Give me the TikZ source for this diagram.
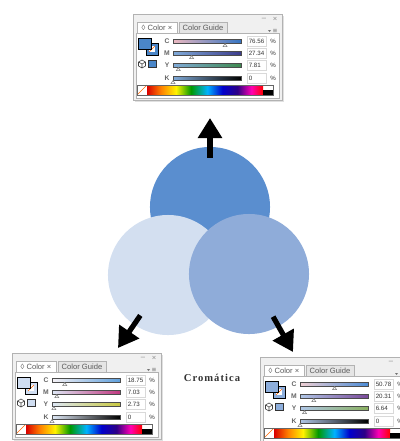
\documentclass[tikz,border=0pt]{standalone}
\usepackage{fontspec}
\usetikzlibrary{arrows.meta}
\newfontfamily\uifont{Liberation Sans}
\newfontfamily\capfont[LetterSpace=10]{Liberation Serif}
\definecolor{topblue}{HTML}{5A8ECF}
\definecolor{leftblue}{HTML}{D3DFF0}
\definecolor{rightblue}{HTML}{8FACD9}
% panel colours: fill, C slider ends, M/Y slider right ends
\definecolor{tpfill}{HTML}{4A86C8}
\definecolor{tpcl}{HTML}{EBB8C0}
\definecolor{tpcr}{HTML}{3574C2}
\definecolor{tpmr}{HTML}{3C3C8C}
\definecolor{tpyr}{HTML}{3E8A50}
\definecolor{blfill}{HTML}{D0DEF2}
\definecolor{blcl}{HTML}{F6F2F6}
\definecolor{blcr}{HTML}{60A0DC}
\definecolor{blmr}{HTML}{C03880}
\definecolor{blyr}{HTML}{C8C840}
\definecolor{brfill}{HTML}{8DAEDC}
\definecolor{brcl}{HTML}{F0D0D4}
\definecolor{brcr}{HTML}{4C8CD6}
\definecolor{brmr}{HTML}{7A4A9A}
\definecolor{bryr}{HTML}{8AB060}
\pgfdeclarehorizontalshading{spectrum}{100bp}{color(0bp)=(red); color(25bp)=(red!85!black);
  color(31bp)=(orange); color(37.5bp)=(yellow!90!orange); color(44bp)=(green!60!black);
  color(51bp)=(cyan!70!blue); color(57.5bp)=(blue!80!black); color(64bp)=(blue!50!violet!70!black);
  color(70bp)=(magenta!70!red); color(75bp)=(red); color(100bp)=(red)}
\begin{document}
\begin{tikzpicture}[x=0.025cm, y=-0.025cm]
  \tikzset{
    disc/.style={circle, minimum size=3cm, inner sep=0pt},
    pointer/.style={-{Triangle[length=0.5cm, width=0.58cm]}, line width=0.13cm, shorten <=1.225cm},
    tabtext/.style={font=\uifont\fontsize{5.4}{5.4}\selectfont, text=black!65, inner sep=0pt},
    chan/.style={font=\uifont\bfseries\fontsize{4.8}{4.8}\selectfont, text=black!60, inner sep=0pt},
    valtext/.style={font=\uifont\fontsize{4.4}{4.4}\selectfont, text=black!80, inner sep=0pt},
    pics/colpanel/.style args={#1/#2/#3/#4}{code={
      \fill[black!12] (2,2) rectangle (151,88);
      \draw[black!30, fill=black!6] (0,0) rectangle (149,86);
      \draw[black!30, fill=white] (3,19) rectangle (146,84);
      \draw[black!30, fill=black!10] (46,19) -- (46,8) -- (94,8) -- (94,19);
      \draw[black!30, fill=white] (4,19) -- (4,8) -- (44,8) -- (44,19);
      \node[tabtext] (-tabA) at (24,13.5) {◊ Color ×};
      \node[tabtext] (-tabB) at (70,13.5) {Color Guide};
      \node[tabtext, text=black!45] (-min) at (131,5) {–};
      \node[tabtext, text=black!45] (-close) at (142,5) {×};
      \node[tabtext, text=black!55] (-menu) at (142,17) {≡};
      \fill[black!55] (135,16) -- ++(3,0) -- ++(-1.5,2) -- cycle;
      % fill and stroke swatches
      \draw[fill=#1fill] (13,29) rectangle (25,41);
      \fill[white] (16,32) rectangle (22,38);
      \draw[orange!80!red] (16,38) -- (22,32);
      \draw[fill=#1fill] (5,24) rectangle (18,35);
      \draw[black!75, line width=0.4pt] (9,46) -- (12.5,48) -- (12.5,52) -- (9,54) -- (5.5,52) -- (5.5,48) -- cycle
        (5.5,48) -- (9,50) -- (12.5,48) (9,50) -- (9,54);
      \draw[black!80, fill=#1fill] (15.5,46) rectangle (23,53.5);
      % sliders
      \foreach \ch/\row/\val/\lc/\rc in {C/27/#2/#1cl/#1cr, M/39/#3/#1fill!70!white/#1mr,
                                         Y/51/#4/#1fill!70!white/#1yr, K/64/0/#1fill!70!white/black}{
        \node[chan] (-lab\ch) at (34,\row) {\ch};
        \draw[black!70, left color=\lc, right color=\rc] (40,\row-1.8) rectangle (108,\row+1.8);
        \draw[black!50, fill=white] ({40+0.68*\val},\row+2.6) -- ++(-2,3) -- ++(4,0) -- cycle;
        \draw[black!15, fill=white] (114,\row-5) rectangle (133,\row+5);
        \node[valtext, anchor=west] (-val\ch) at (115.5,\row) {\val};
        \node[valtext] (-pct\ch) at (140,\row) {\%};
      }
      % spectrum
      \draw[black!60, fill=white] (4,71) rectangle (140,81);
      \draw[orange!80!red] (4,81) -- (14,71);
      \fill[shading=spectrum] (14,71) rectangle (130,81);
      \fill[black] (130,76) rectangle (140,81);
      \draw[black!60] (4,71) rectangle (140,81);
    }},
  }
  \useasboundingbox (0,0) rectangle (400,441);
  \node[disc, fill=topblue] (top) at (210,207) {};
  \node[disc, fill=leftblue] (left) at (168,275) {};
  \node[disc, fill=rightblue] (right) at (249,274) {};
  \pic (tp) at (133,14) {colpanel=tp/76.56/27.34/7.81};
  \pic (bl) at (12,353) {colpanel=bl/18.75/7.03/2.73};
  \pic (br) at (260,357) {colpanel=br/50.78/20.31/6.64};
  \coordinate (tipT) at (210,118);
  \coordinate (tipL) at (118,348);
  \coordinate (tipR) at (293,352);
  \draw[pointer] (top.center) -- (tipT);
  \draw[pointer] (left.center) -- (tipL);
  \draw[pointer] (right.center) -- (tipR);
  \node[font=\capfont\bfseries\fontsize{7.5}{7.5}\selectfont, text=black!80] (cromatica) at (212,378) {Cromática};
\end{tikzpicture}
\end{document}
